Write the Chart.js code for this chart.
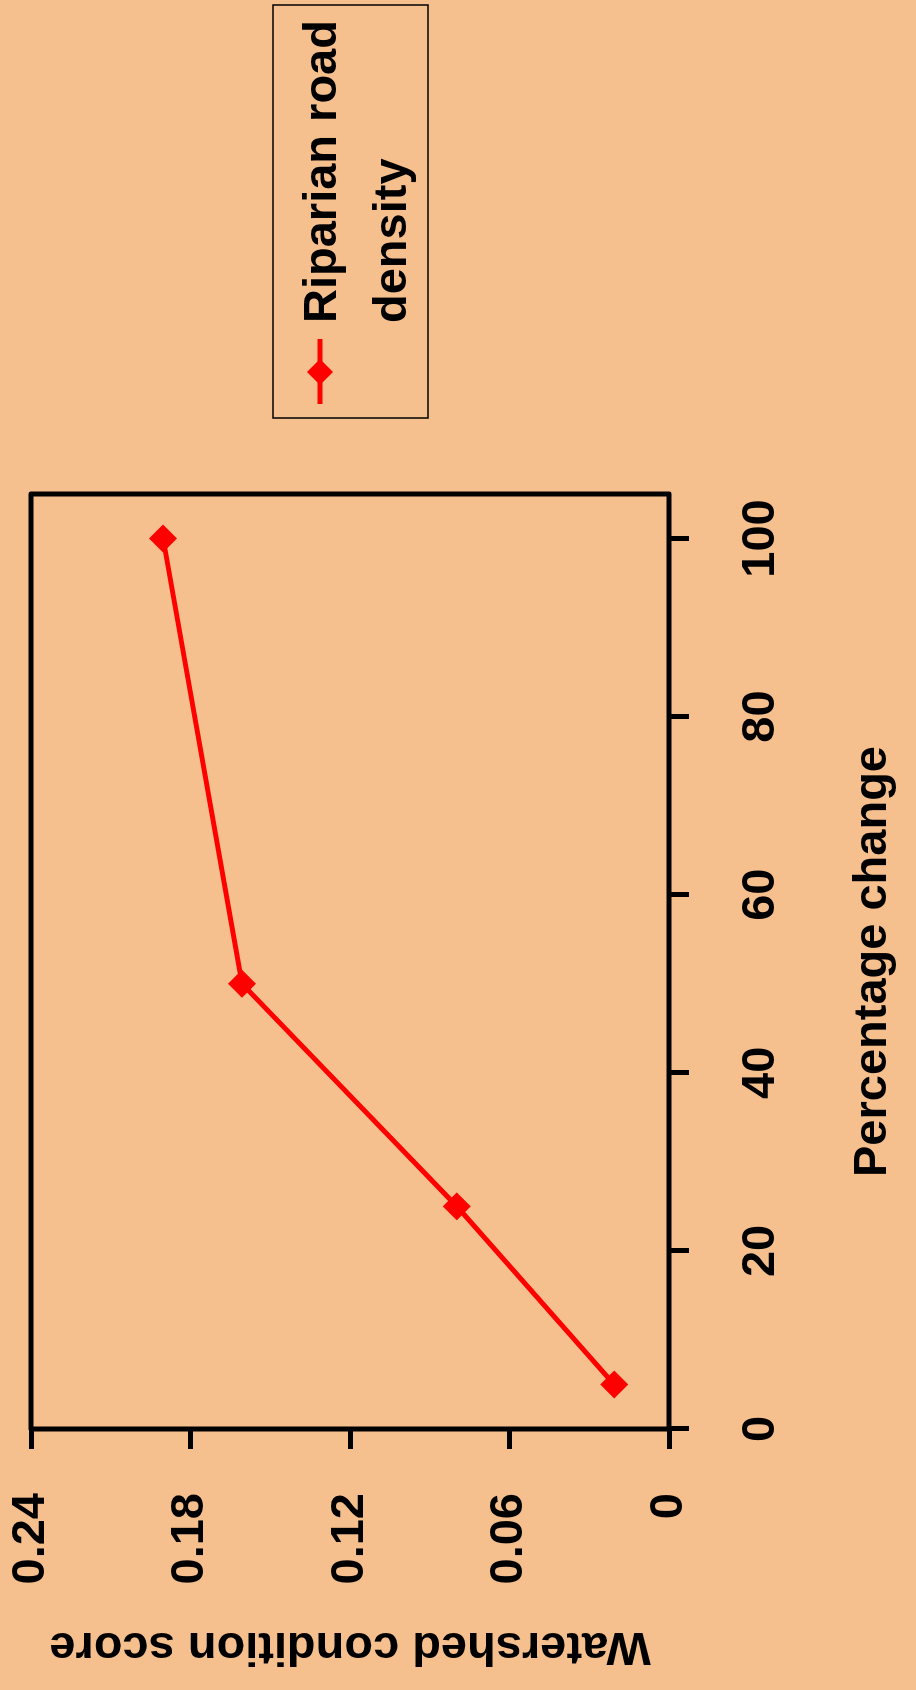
<!DOCTYPE html>
<html>
<head>
<meta charset="utf-8">
<script src="https://cdn.jsdelivr.net/npm/chart.js@4.4.0/dist/chart.umd.min.js"></script>
<style>
  html, body { margin: 0; padding: 0; background: #f6c08e; overflow: hidden; }
  body { width: 916px; height: 1690px; position: relative; }
  /* the chart is drawn landscape and turned a quarter turn to the left */
  #wrap {
    position: absolute; left: 0; top: 0;
    width: 1690px; height: 916px;
    transform-origin: 0 0;
    transform: translate(0, 1690px) rotate(-90deg);
  }
</style>
</head>
<body>
<div id="wrap"><canvas id="chart" width="1690" height="916"></canvas></div>
<script>
const percentChange = [5, 25, 50, 100];
const conditionScore = [0.0206, 0.0798, 0.1606, 0.1903];

const xTickValues = [0, 20, 40, 60, 80, 100];
const yTickValues = [0, 0.06, 0.12, 0.18, 0.24];
const yTickLabels = ['0', '0.06', '0.12', '0.18', '0.24'];

const xTitle = 'Percentage change';
const yTitle = 'Watershed condition score';
const seriesLines = ['Riparian road', 'density'];

const FONT = "'Liberation Sans', Arial, sans-serif";
const RED = '#ff0000';

const diamond = (ctx, x, y, r) => {
  ctx.beginPath();
  ctx.moveTo(x, y - r);
  ctx.lineTo(x + r, y);
  ctx.lineTo(x, y + r);
  ctx.lineTo(x - r, y);
  ctx.closePath();
  ctx.fill();
};

const frameBox = {
  id: 'frameBox',
  beforeDatasetsDraw(chart) {
    const { ctx, chartArea: a } = chart;
    ctx.save();
    ctx.strokeStyle = '#000';
    ctx.lineWidth = 5;
    ctx.lineJoin = 'round';
    ctx.strokeRect(a.left, a.top, a.right - a.left, a.bottom - a.top);
    ctx.restore();
  }
};

const sideLegend = {
  id: 'sideLegend',
  afterDraw(chart) {
    const { ctx, chartArea: a } = chart;
    const left = a.right + 76;
    const top = 273;
    ctx.save();
    ctx.strokeStyle = '#000';
    ctx.lineWidth = 1.5;
    ctx.strokeRect(left, top, 413, 155);

    const rowY = top + 47;
    ctx.strokeStyle = RED;
    ctx.lineWidth = 5;
    ctx.beginPath();
    ctx.moveTo(left + 14, rowY);
    ctx.lineTo(left + 79, rowY);
    ctx.stroke();
    ctx.fillStyle = RED;
    diamond(ctx, left + 46, rowY, 13);

    ctx.fillStyle = '#000';
    ctx.font = `bold 47px ${FONT}`;
    ctx.textAlign = 'left';
    ctx.textBaseline = 'middle';
    seriesLines.forEach((line, i) => {
      ctx.fillText(line, left + 95, rowY + 3 + i * 70);
    });
    ctx.restore();
  }
};

const ctx = document.getElementById('chart').getContext('2d');

new Chart(ctx, {
  type: 'line',
  data: {
    datasets: [{
      label: seriesLines.join(' '),
      data: percentChange.map((x, i) => ({ x, y: conditionScore[i] })),
      borderColor: RED,
      backgroundColor: RED,
      borderWidth: 5,
      tension: 0,
      pointStyle: 'rectRot',
      pointRadius: 14,
      pointHoverRadius: 14,
      pointBorderWidth: 0
    }]
  },
  options: {
    responsive: false,
    animation: false,
    devicePixelRatio: 1,
    layout: { padding: { left: 0, top: 31, right: 494, bottom: 0 } },
    plugins: {
      legend: { display: false },
      tooltip: { enabled: false }
    },
    scales: {
      x: {
        type: 'linear',
        min: 0,
        max: 105,
        afterBuildTicks: scale => {
          scale.ticks = xTickValues.map(value => ({ value }));
        },
        afterFit: scale => {
          scale.height = 247;
          scale.paddingLeft = 0;
          scale.paddingRight = 0;
        },
        grid: {
          drawOnChartArea: false,
          drawTicks: true,
          tickLength: 20,
          tickWidth: 5,
          tickColor: '#000'
        },
        border: { display: false },
        ticks: {
          color: '#000',
          padding: 44,
          maxRotation: 0,
          font: { family: FONT, size: 47, weight: 'bold' }
        },
        title: {
          display: true,
          text: xTitle,
          color: '#000',
          padding: { top: 0, bottom: 15 },
          font: { family: FONT, size: 47, weight: 'bold' }
        }
      },
      y: {
        type: 'linear',
        min: 0,
        max: 0.24,
        afterBuildTicks: scale => {
          scale.ticks = yTickValues.map(value => ({ value }));
        },
        afterFit: scale => {
          scale.width = 261;
          scale.paddingTop = 0;
          scale.paddingBottom = 0;
        },
        grid: {
          drawOnChartArea: false,
          drawTicks: true,
          tickLength: 20,
          tickWidth: 5,
          tickColor: '#000'
        },
        border: { display: false },
        ticks: {
          color: '#000',
          padding: 44,
          font: { family: FONT, size: 47, weight: 'bold' },
          callback: (value, index) => yTickLabels[index]
        },
        title: {
          display: true,
          text: yTitle,
          color: '#000',
          padding: { top: 16, bottom: 0 },
          font: { family: FONT, size: 47, weight: 'bold' }
        }
      }
    }
  },
  plugins: [frameBox, sideLegend]
});
</script>
</body>
</html>
